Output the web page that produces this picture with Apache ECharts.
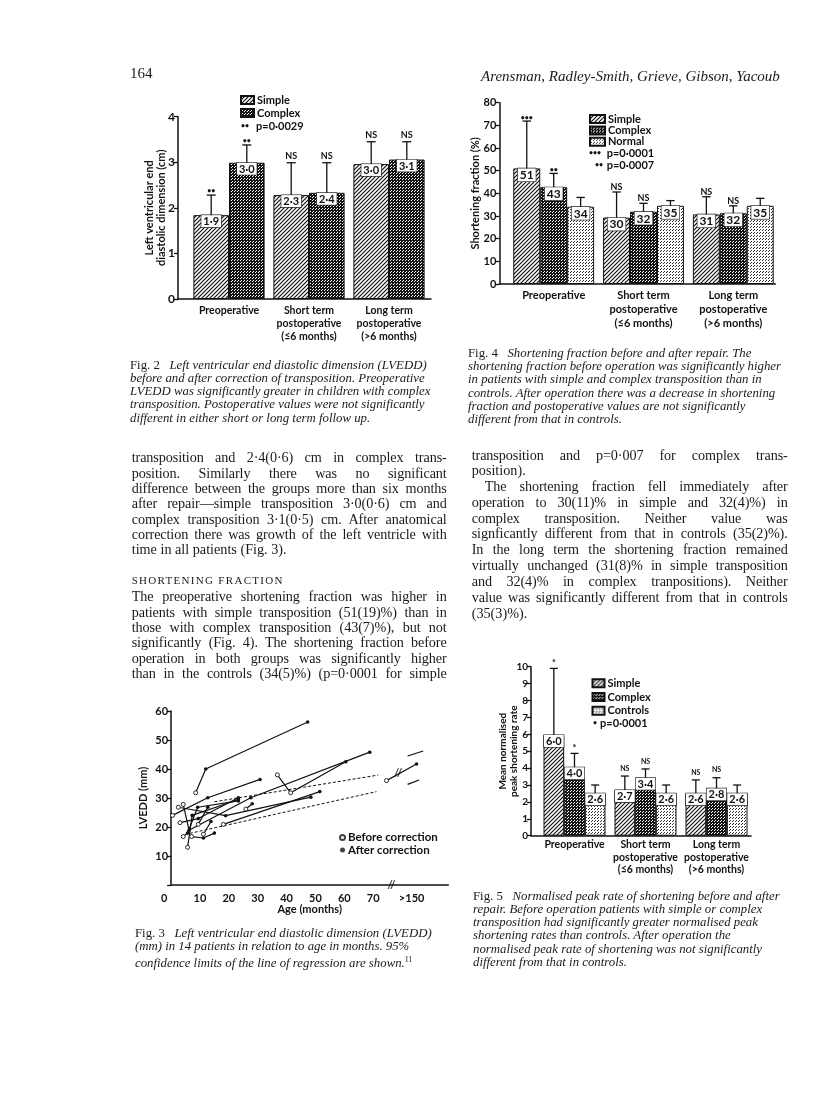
<!DOCTYPE html>
<html><head><meta charset="utf-8">
<script src="https://cdn.jsdelivr.net/npm/echarts@6/dist/echarts.min.js"></script>
<style>
html,body{margin:0;padding:0;background:#fff;}
#page{position:relative;width:816px;height:1093px;overflow:hidden;background:#fff;}
#chart{position:absolute;left:0;top:0;width:816px;height:1093px;}
.t{position:absolute;font-family:'Liberation Serif','DejaVu Serif',serif;color:#1a1a1a;white-space:nowrap;}
.body{font-size:14.2px;line-height:16px;white-space:normal;text-align:justify;text-align-last:justify;word-spacing:-1.5px;letter-spacing:-0.1px;}
.body.last{text-align-last:left;word-spacing:0;letter-spacing:0;}
.cap{font-size:12.8px;line-height:13px;font-style:italic;}
.cap span{font-style:normal;}
.head{font-size:11px;letter-spacing:1.3px;line-height:14px;}
</style></head>
<body><div id="page"><div id="chart"></div></div>
<script>
// ---------- data ----------
const categories = ['Preoperative', 'Short term\npostoperative\n(≤6 months)', 'Long term\npostoperative\n(>6 months)'];

// Fig 2 (LVEDD, cm)
const f2Simple = [1.84, 2.28, 2.96];
const f2Complex = [2.99, 2.33, 3.06];
const f2SimpleErr = [2.28, 2.99, 3.45];
const f2ComplexErr = [3.38, 2.99, 3.45];
const f2SimpleLbl = ['1·9', '2·3', '3·0'];
const f2ComplexLbl = ['3·0', '2·4', '3·1'];
const f2SimpleSig = ['••', 'NS', 'NS'];
const f2ComplexSig = ['••', 'NS', 'NS'];

// Fig 4 (shortening fraction, %)
const f4Simple = [51.0, 29.3, 30.7];
const f4Complex = [42.7, 31.9, 31.2];
const f4Normal = [34.1, 34.5, 34.5];
const f4SimpleErr = [71.9, 40.6, 38.5];
const f4ComplexErr = [48.8, 35.6, 34.5];
const f4NormalErr = [38.2, 36.8, 37.8];
const f4SimpleLbl = ['51', '30', '31'];
const f4ComplexLbl = ['43', '32', '32'];
const f4NormalLbl = ['34', '35', '35'];
const f4SimpleSig = ['•••', 'NS', 'NS'];
const f4ComplexSig = ['••', 'NS', 'NS'];
const f4NormalSig = ['', '', ''];

// Fig 5 (normalised peak shortening rate)
const f5Simple = [5.96, 2.70, 2.51];
const f5Complex = [4.05, 3.43, 2.80];
const f5Controls = [2.51, 2.51, 2.51];
const f5SimpleErr = [9.9, 3.53, 3.30];
const f5ComplexErr = [4.87, 3.95, 3.43];
const f5ControlsErr = [3.0, 3.0, 3.0];
const f5SimpleLbl = ['6·0', '2·7', '2·6'];
const f5ComplexLbl = ['4·0', '3·4', '2·8'];
const f5ControlsLbl = ['2·6', '2·6', '2·6'];
const f5SimpleSig = ['*', 'NS', 'NS'];
const f5ComplexSig = ['*', 'NS', 'NS'];
const f5ControlsSig = ['', '', ''];

// Fig 3 (LVEDD mm vs age months): [age, LVEDD, 0=before/1=after]; age 85 stands for ">150"
const patient1 = [[8.5, 31.8, 0], [12.0, 40.0, 1], [47.3, 56.2, 1]];
const patient2 = [[0.5, 24.0, 0], [12.7, 30.1, 1], [30.8, 36.4, 1]];
const patient3 = [[36.8, 38.0, 0], [41.4, 31.8, 0], [60.5, 42.5, 1]];
const patient4 = [[4.2, 27.8, 0], [6.2, 18.9, 1], [27.6, 30.1, 1], [68.8, 45.8, 1]];
const patient5 = [[2.5, 26.8, 0], [18.9, 23.9, 1], [48.4, 30.3, 1]];
const patient6 = [[18.1, 20.9, 0], [51.5, 32.2, 1]];
const patient7 = [[25.9, 26.2, 0], [28.1, 28.0, 1]];
const patient8 = [[3.1, 21.5, 0], [9.4, 22.9, 1], [23.3, 30.1, 1]];
const patient9 = [[5.7, 13.0, 0], [7.3, 24.0, 1], [23.3, 29.5, 1]];
const patient10 = [[4.2, 16.7, 0], [5.7, 17.9, 1], [9.2, 26.8, 1], [23.3, 29.0, 1]];
const patient11 = [[7.1, 16.7, 0], [11.2, 16.2, 1], [15.0, 17.9, 1]];
const patient12 = [[11.2, 17.5, 0], [13.8, 21.9, 1]];
const patient13 = [[9.4, 20.9, 0], [12.7, 26.8, 1]];
const patient14 = [[74.6, 36.0, 0], [85.0, 41.7, 1]];
const patients = [patient1, patient2, patient3, patient4, patient5, patient6, patient7,
  patient8, patient9, patient10, patient11, patient12, patient13, patient14];
const ciUpper = [[15, 28.7], [71.7, 37.9]];
const ciLower = [[6.5, 17.8], [71.1, 32.2]];
const ciUpperLate = [[81.9, 44.5], [87.3, 46.2]];
const ciLowerLate = [[81.9, 34.7], [85.9, 36.2]];
const breakMarks = [[78.6, 38.7], [76.3, 0]];
const f3XTicks = [0, 10, 20, 30, 40, 50, 60, 70, 83.3];
const f3XTickText = ['0', '10', '20', '30', '40', '50', '60', '70', '>150'];

// ---------- text ----------
const leftLines = [
 [457, 'transposition and 2·4(0·6) cm in complex trans-', 0],
 [472.5, 'position. Similarly there was no significant', 0],
 [488, 'difference between the groups more than six months', 0],
 [503.3, 'after repair—simple transposition 3·0(0·6) cm and', 0],
 [518.5, 'complex transposition 3·1(0·5) cm. After anatomical', 0],
 [533.8, 'correction there was growth of the left ventricle with', 0],
 [549, 'time in all patients (Fig. 3).', 1],
 [596, 'The preoperative shortening fraction was higher in', 0],
 [611.5, 'patients with simple transposition (51(19)%) than in', 0],
 [627, 'those with complex transposition (43(7)%), but not', 0],
 [642.3, 'significantly (Fig. 4). The shortening fraction before', 0],
 [657.7, 'operation in both groups was significantly higher', 0],
 [673, 'than in the controls (34(5)%) (p=0·0001 for simple', 0]
];
const rightLines = [
 [455, 'transposition and p=0·007 for complex trans-', 0, 0],
 [470.3, 'position).', 1, 0],
 [486, 'The shortening fraction fell immediately after', 0, 13],
 [501.7, 'operation to 30(11)% in simple and 32(4)%) in', 0, 0],
 [517.5, 'complex transposition. Neither value was', 0, 0],
 [533.3, 'signficantly different from that in controls (35(2)%).', 0, 0],
 [549, 'In the long term the shortening fraction remained', 0, 0],
 [565, 'virtually unchanged (31(8)% in simple transposition', 0, 0],
 [580.7, 'and 32(4)% in complex tranpositions). Neither', 0, 0],
 [596.7, 'value was significantly different from that in controls', 0, 0],
 [612.7, '(35(3)%).', 1, 0]
];
const captions = [
 {x: 130, y: 365, lines: ['<span>Fig. 2</span>&nbsp;&nbsp; Left ventricular end diastolic dimension (LVEDD)',
   'before and after correction of transposition. Preoperative',
   'LVEDD was significantly greater in children with complex',
   'transposition. Postoperative values were not significantly',
   'different in either short or long term follow up.']},
 {x: 468, y: 353.3, lines: ['<span>Fig. 4</span>&nbsp;&nbsp; Shortening fraction before and after repair. The',
   'shortening fraction before operation was significantly higher',
   'in patients with simple and complex transposition than in',
   'controls. After operation there was a decrease in shortening',
   'fraction and postoperative values are not significantly',
   'different from that in controls.']},
 {x: 135, y: 933, lines: ['<span>Fig. 3</span>&nbsp;&nbsp; Left ventricular end diastolic dimension (LVEDD)',
   '(mm) in 14 patients in relation to age in months. 95%',
   'confidence limits of the line of regression are shown.<sup style="font-size:8px;font-style:normal">11</sup>']},
 {x: 473, y: 896, lines: ['<span>Fig. 5</span>&nbsp;&nbsp; Normalised peak rate of shortening before and after',
   'repair. Before operation patients with simple or complex',
   'transposition had significantly greater normalised peak',
   'shortening rates than controls. After operation the',
   'normalised peak rate of shortening was not significantly',
   'different from that in controls.']}
];

const page = document.getElementById('page');
function addDiv(cls, x, y, w, html) {
  const d = document.createElement('div');
  d.className = 't ' + cls;
  d.style.left = x + 'px'; d.style.top = y + 'px';
  if (w) d.style.width = w + 'px';
  d.innerHTML = html;
  page.appendChild(d);
}
addDiv('', 130, 64, 0, '<span style="font-size:15px">164</span>');
addDiv('', 481, 67, 0, '<span style="font-size:15px;font-style:italic">Arensman, Radley-Smith, Grieve, Gibson, Yacoub</span>');
leftLines.forEach(l => addDiv('body' + (l[2] ? ' last' : ''), 131.7, l[0] - 8, 315, l[1]));
rightLines.forEach(l => addDiv('body' + (l[2] ? ' last' : ''), 471.7 + l[3], l[0] - 8, 316 - l[3], l[1]));
addDiv('head', 131.7, 573, 0, 'SHORTENING FRACTION');
captions.forEach(c => c.lines.forEach((ln, i) => addDiv('cap', c.x, c.y + i * 13.3 - 6.5, 0, ln)));

// ---------- patterns ----------
function pattern(kind) {
  const c = document.createElement('canvas');
  const ctx = c.getContext('2d');
  if (kind === 'hatch') {
    c.width = 4; c.height = 4;
    ctx.fillStyle = '#fff'; ctx.fillRect(0, 0, 4, 4);
    ctx.strokeStyle = '#111'; ctx.lineWidth = 1.2;
    ctx.beginPath();
    ctx.moveTo(-1, 5); ctx.lineTo(5, -1);
    ctx.moveTo(-1, 1); ctx.lineTo(1, -1);
    ctx.moveTo(3, 5); ctx.lineTo(5, 3);
    ctx.stroke();
  } else if (kind === 'dark') {
    c.width = 3; c.height = 3;
    ctx.fillStyle = '#151515'; ctx.fillRect(0, 0, 3, 3);
    ctx.fillStyle = '#fff'; ctx.fillRect(1, 1, 1, 1); ctx.fillRect(0, 2, 1, 1);
  } else {
    c.width = 3; c.height = 3;
    ctx.fillStyle = '#fff'; ctx.fillRect(0, 0, 3, 3);
    ctx.fillStyle = '#333'; ctx.fillRect(1, 1, 1, 1); ctx.fillRect(0, 2, 1, 1);
  }
  return {image: c, repeat: 'repeat'};
}
const HATCH = pattern('hatch'), DARK = pattern('dark'), LIGHT = pattern('light');

// ---------- helpers ----------
const FONT = 'Lato';
const INK = '#111';
const axisLineStyle = {color: INK, width: 1.5};

function frameAxes(g, max, interval, fontSize, name, nameGap, nameSize) {
  return {
    x: {gridIndex: g, type: 'value', min: 0, max: 1, axisLine: {show: true, lineStyle: axisLineStyle},
        axisTick: {show: false}, axisLabel: {show: false}, splitLine: {show: false}},
    y: {gridIndex: g, type: 'value', min: 0, max: max, interval: interval,
        axisLine: {show: true, lineStyle: axisLineStyle},
        axisTick: {show: true, length: 4, lineStyle: {color: INK, width: 1.3}},
        axisLabel: {margin: 3, fontFamily: FONT, fontWeight: 'bold', fontSize: fontSize, color: INK},
        splitLine: {show: false},
        name: name, nameLocation: 'middle', nameRotate: 90, nameGap: nameGap, nameMoveOverlap: false,
        nameTextStyle: {fontFamily: FONT, fontWeight: 'bold', fontSize: nameSize, color: INK, lineHeight: nameSize + 1}}
  };
}
function dataAxes(g, max, fontSize, margin, lineHeight) {
  return {
    x: {gridIndex: g, type: 'category', data: categories, axisLine: {show: false}, axisTick: {show: false},
        axisLabel: {interval: 0, margin: margin, lineHeight: lineHeight, fontFamily: FONT, fontWeight: 'bold',
                    fontSize: fontSize, color: INK}},
    y: {gridIndex: g, type: 'value', min: 0, max: max, show: false}
  };
}
function barSeries(name, ax, vals, lbls, fill, gap, fontSize) {
  return {type: 'bar', name: name, xAxisIndex: ax, yAxisIndex: ax, data: vals,
    barGap: '0%', barCategoryGap: gap, silent: true,
    itemStyle: {color: fill, borderColor: INK, borderWidth: 1},
    label: {show: true, position: 'insideTop', distance: 0, formatter: p => lbls[p.dataIndex],
      backgroundColor: '#fff', borderColor: INK, borderWidth: 0.6, padding: [1, 2, 0, 2],
      fontFamily: FONT, fontWeight: 'bold', fontSize: fontSize, color: INK}};
}
function errSeries(ax, bars, errs, sigs, idx, n, gapFrac, capHalf, sigOpt) {
  return {type: 'custom', xAxisIndex: ax, yAxisIndex: ax, silent: true, z: 5,
    data: errs.map((e, i) => [i, e, bars[i]]),
    renderItem: function (params, api) {
      const c = api.value(0), e = api.value(1), b = api.value(2);
      const band = api.size([1, 0])[0];
      const gw = band * (1 - gapFrac), bw = gw / n;
      const pb = api.coord([c, b]), pe = api.coord([c, e]);
      const x = pb[0] - gw / 2 + bw * (idx + 0.5);
      const s = sigs[params.dataIndex];
      const isNS = s === 'NS';
      const children = [
        {type: 'line', shape: {x1: x, y1: pb[1], x2: x, y2: pe[1]}, style: {stroke: INK, lineWidth: 1.3}},
        {type: 'line', shape: {x1: x - capHalf, y1: pe[1], x2: x + capHalf, y2: pe[1]}, style: {stroke: INK, lineWidth: 1.3}}
      ];
      if (s) children.push({type: 'text', x: x, y: pe[1] - (isNS ? sigOpt.nsOff : sigOpt.dotOff),
        style: {text: s, align: 'center', verticalAlign: 'bottom', fill: INK,
          font: 'bold ' + (isNS ? sigOpt.nsSize : sigOpt.dotSize) + 'px ' + FONT}});
      return {type: 'group', children: children};
    }};
}
function txt(x, y, s, size) {
  return {type: 'text', x: x, y: y, style: {text: s, fill: INK, font: 'bold ' + size + 'px ' + FONT, verticalAlign: 'middle'}};
}

// ---------- layout ----------
const grids = [
  {left: 178, top: 116.7, width: 253, height: 182.3},     // 0 fig2 frame
  {left: 189, top: 116.7, width: 240, height: 182.3},     // 1 fig2 data
  {left: 499.3, top: 102.7, width: 276, height: 181.3},   // 2 fig4 frame
  {left: 508.8, top: 102.7, width: 269.4, height: 181.3}, // 3 fig4 data
  {left: 171.1, top: 711, width: 277.2, height: 174},     // 4 fig3
  {left: 531, top: 666.7, width: 220, height: 169},       // 5 fig5 frame
  {left: 539, top: 666.7, width: 213, height: 169}        // 6 fig5 data
];
const a0 = frameAxes(0, 4, 1, 12, 'Left ventricular end\ndiastolic dimension (cm)', 10.5, 11);
const a1 = dataAxes(1, 4, 10.5, 5, 13);
const a2 = frameAxes(2, 80, 10, 11, 'Shortening fraction (%)', 18, 11);
const a3 = dataAxes(3, 80, 11, 4, 14);
const a5 = frameAxes(5, 10, 1, 10, 'Mean normalised\npeak shortening rate', 12, 10);
const a6 = dataAxes(6, 10, 10.5, 3, 12.5);
const a4 = {
  x: {gridIndex: 4, type: 'value', min: 0, max: 96, axisLine: {show: true, lineStyle: axisLineStyle},
      axisTick: {show: false}, splitLine: {show: false},
      axisLabel: {customValues: f3XTicks, margin: 8, fontFamily: FONT, fontWeight: 'bold', fontSize: 11, color: INK,
        formatter: v => { const i = f3XTicks.indexOf(v); const t = i >= 0 ? f3XTickText[i] : ''; return v === 0 ? '{z|0}' : t; },
        rich: {z: {padding: [0, 14, 0, 0], fontFamily: FONT, fontWeight: 'bold', fontSize: 11, color: INK}}},
      name: 'Age (months)', nameLocation: 'middle', nameGap: 19, nameMoveOverlap: false,
      nameTextStyle: {fontFamily: FONT, fontWeight: 'bold', fontSize: 11, color: INK}},
  y: {gridIndex: 4, type: 'value', min: 0, max: 60, interval: 10, axisLine: {show: true, lineStyle: axisLineStyle},
      axisTick: {show: true, length: 4, lineStyle: {color: INK, width: 1.3}}, splitLine: {show: false},
      axisLabel: {margin: 3, fontFamily: FONT, fontWeight: 'bold', fontSize: 11, color: INK, formatter: v => v === 0 ? '' : v},
      name: 'LVEDD (mm)', nameLocation: 'middle', nameRotate: 90, nameGap: 22, nameMoveOverlap: false,
      nameTextStyle: {fontFamily: FONT, fontWeight: 'bold', fontSize: 11, color: INK}}
};
const xAxes = [a0.x, a1.x, a2.x, a3.x, a4.x, a5.x, a6.x];
const yAxes = [a0.y, a1.y, a2.y, a3.y, a4.y, a5.y, a6.y];

const series = [];
// Fig 2
series.push(barSeries('Simple', 1, f2Simple, f2SimpleLbl, HATCH, '11%', 11));
series.push(barSeries('Complex', 1, f2Complex, f2ComplexLbl, DARK, '11%', 11));
const sig2 = {nsOff: 2.5, dotOff: 1, nsSize: 9, dotSize: 7};
series.push(errSeries(1, f2Simple, f2SimpleErr, f2SimpleSig, 0, 2, 0.11, 4.5, sig2));
series.push(errSeries(1, f2Complex, f2ComplexErr, f2ComplexSig, 1, 2, 0.11, 4.5, sig2));
// Fig 4
series.push(barSeries('Simple', 3, f4Simple, f4SimpleLbl, HATCH, '10%', 12));
series.push(barSeries('Complex', 3, f4Complex, f4ComplexLbl, DARK, '10%', 12));
series.push(barSeries('Normal', 3, f4Normal, f4NormalLbl, LIGHT, '10%', 12));
const sig4 = {nsOff: 0.5, dotOff: 0, nsSize: 9, dotSize: 7};
series.push(errSeries(3, f4Simple, f4SimpleErr, f4SimpleSig, 0, 3, 0.10, 4.2, sig4));
series.push(errSeries(3, f4Complex, f4ComplexErr, f4ComplexSig, 1, 3, 0.10, 4.2, sig4));
series.push(errSeries(3, f4Normal, f4NormalErr, f4NormalSig, 2, 3, 0.10, 4.2, sig4));
// Fig 5
series.push(barSeries('Simple', 6, f5Simple, f5SimpleLbl, HATCH, '12.7%', 11));
series.push(barSeries('Complex', 6, f5Complex, f5ComplexLbl, DARK, '12.7%', 11));
series.push(barSeries('Controls', 6, f5Controls, f5ControlsLbl, LIGHT, '12.7%', 11));
const sig5 = {nsOff: 4, dotOff: 1, nsSize: 7, dotSize: 9};
series.push(errSeries(6, f5Simple, f5SimpleErr, f5SimpleSig, 0, 3, 0.127, 4, sig5));
series.push(errSeries(6, f5Complex, f5ComplexErr, f5ComplexSig, 1, 3, 0.127, 4, sig5));
series.push(errSeries(6, f5Controls, f5ControlsErr, f5ControlsSig, 2, 3, 0.127, 4, sig5));
// Fig 3
function simpleLine(data, dashed) {
  return {type: 'line', xAxisIndex: 4, yAxisIndex: 4, data: data, showSymbol: false, silent: true,
    lineStyle: {color: INK, width: dashed ? 1 : 1.2, type: dashed ? [3, 2] : 'solid'}, z: 1};
}
series.push(simpleLine(ciUpper, true));
series.push(simpleLine(ciLower, true));
series.push(simpleLine(ciUpperLate, false));
series.push(simpleLine(ciLowerLate, false));
patients.forEach(p => {
  series.push({type: 'line', xAxisIndex: 4, yAxisIndex: 4, silent: true, z: 3,
    data: p.map(d => ({value: [d[0], d[1]], symbol: 'circle', symbolSize: d[2] ? 3.6 : 4,
      itemStyle: d[2] ? {color: INK, borderWidth: 0} : {color: '#fff', borderColor: INK, borderWidth: 0.9}})),
    showAllSymbol: true, lineStyle: {color: INK, width: 1.2}});
});
series.push({type: 'scatter', xAxisIndex: 4, yAxisIndex: 4, silent: true, symbolSize: 0, z: 6, data: breakMarks,
  label: {show: true, position: 'inside', formatter: '//', fontFamily: FONT, fontWeight: 'bold', fontSize: 12, color: INK}});
series.push({type: 'scatter', name: 'Before correction', xAxisIndex: 4, yAxisIndex: 4, data: [], symbol: 'circle',
  itemStyle: {color: '#fff', borderColor: INK, borderWidth: 1}});
series.push({type: 'scatter', name: 'After correction', xAxisIndex: 4, yAxisIndex: 4, data: [], symbol: 'circle', itemStyle: {color: INK}});

function legend(names, left, top, lh, gap, size, iw, ih) {
  return {orient: 'vertical', left: left, top: top, padding: 0, itemGap: gap, itemWidth: iw, itemHeight: ih, selectedMode: false,
    data: names, textStyle: {fontFamily: FONT, fontWeight: 'bold', fontSize: size, color: INK, lineHeight: lh, padding: [0, 0, 0, -2]}};
}

const option = {
  animation: false,
  textStyle: {fontFamily: FONT},
  grid: grids,
  xAxis: xAxes,
  yAxis: yAxes,
  legend: [
    legend([{name: 'Simple', icon: 'rect'}, {name: 'Complex', icon: 'rect'}], 240, 94, 12, 1, 11, 13, 8),
    legend([{name: 'Simple', icon: 'rect'}, {name: 'Complex', icon: 'rect'}, {name: 'Normal', icon: 'rect'}], 589, 113.5, 11, 0.4, 11, 15, 8),
    legend([{name: 'Simple', icon: 'rect'}, {name: 'Complex', icon: 'rect'}, {name: 'Controls', icon: 'rect'}], 591.5, 677.3, 12, 1.7, 11, 12, 8),
    legend([{name: 'Before correction', icon: 'circle'}, {name: 'After correction', icon: 'circle'}], 339, 831.5, 12, 0.5, 11.5, 5, 5)
  ],
  graphic: [
    txt(241, 125.5, '••', 7), txt(256, 126, 'p=0·0029', 11),
    txt(589, 153, '•••', 7), txt(606.7, 153.3, 'p=0·0001', 11),
    txt(595, 164.7, '••', 7), txt(606.7, 165, 'p=0·0007', 11),
    txt(593, 723, '•', 7), txt(600, 723.3, 'p=0·0001', 11)
  ],
  series: series
};
const chart = echarts.init(document.getElementById('chart'), null, {renderer: 'canvas'});
chart.setOption(option);
</script>
</body></html>
